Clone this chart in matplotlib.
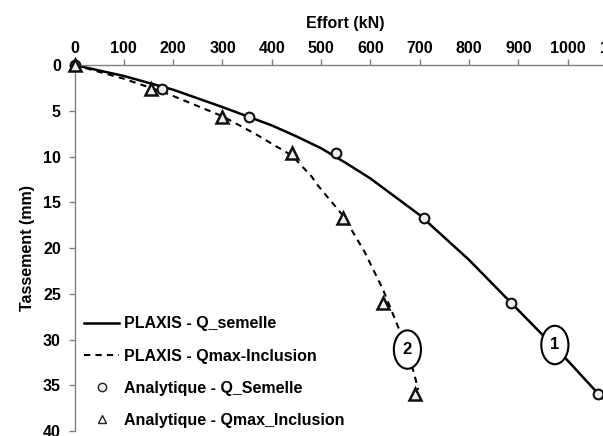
import matplotlib
matplotlib.use("Agg")
import matplotlib.pyplot as plt
from matplotlib.lines import Line2D
from matplotlib.patches import Ellipse

plt.rcParams['font.family'] = ['Liberation Sans', 'DejaVu Sans']
plt.rcParams['font.weight'] = 'bold'

# PLAXIS curves
plaxis_semelle_x = [0, 100, 200, 300, 400, 450, 500, 550, 600, 700, 800, 900, 1000, 1070]
plaxis_semelle_y = [0, 1.2, 2.7, 4.6, 6.6, 7.8, 9.1, 10.7, 12.4, 16.4, 21.3, 26.8, 32.3, 36.4]

plaxis_incl_x = [0, 100, 187, 300, 369, 403, 441, 481, 491, 545, 588, 626, 656, 674, 690, 697]
plaxis_incl_y = [0, 1.5, 3.1, 5.6, 7.6, 8.7, 9.9, 12.2, 13.0, 16.5, 20.4, 24.6, 28.6, 31.0, 34.0, 35.5]

# analytical points
ana_semelle_x = [0, 177, 354, 530, 708, 885, 1062]
ana_incl_x = [0, 155, 300, 441, 545, 625, 691]
ana_y = [0, 2.6, 5.7, 9.6, 16.7, 26.0, 36.0]

curve_labels = ['1', '2']
label_pos_x = [974, 675]
label_pos_y = [30.6, 31.1]

FS = 11.5
W, H = 603, 436
fig = plt.figure(figsize=(W / 100, H / 100), dpi=100)
ax = fig.add_axes([74.5 / W, 1 - 431 / H, (617 - 74.5) / W, (431 - 65) / H])

ax.plot(plaxis_semelle_x, plaxis_semelle_y, color='black', lw=1.8, zorder=2)
ax.plot(plaxis_incl_x, plaxis_incl_y, color='black', lw=1.5, dashes=(3, 2.5), zorder=2)
ax.plot(ana_semelle_x, ana_y, ls='none', marker='o', ms=7, mfc='#eeeeee', mec='#111111',
        mew=1.5, zorder=4, clip_on=False)
ax.plot(ana_incl_x, ana_y, ls='none', marker='^', ms=8, mfc='#eeeeee', mec='#111111',
        mew=1.8, zorder=4, clip_on=False)

for lab, lx, ly in zip(curve_labels, label_pos_x, label_pos_y):
    ax.add_patch(Ellipse((lx, ly), 55, 4.2, facecolor='white', edgecolor='black', lw=1.5, zorder=5))
    ax.text(lx, ly, lab, ha='center', va='center', fontsize=12, fontweight='bold', zorder=6)

ax.set_xlim(0, 1100)
ax.set_ylim(40, 0)
ax.set_xticks(range(0, 1101, 100))
ax.set_yticks(range(0, 41, 5))
ax.xaxis.tick_top()
ax.xaxis.set_label_position('top')
ax.tick_params(axis='both', colors='#808080', labelcolor='black', labelsize=FS, length=4.3, width=1)
ax.tick_params(axis='x', pad=2.5)
ax.tick_params(axis='y', pad=5.5)
for s in ['right', 'bottom']:
    ax.spines[s].set_visible(False)
for s in ['left', 'top']:
    ax.spines[s].set_color('#808080')
    ax.spines[s].set_linewidth(1)

ax.set_xlabel('Effort (kN)', fontsize=FS, fontweight='bold', labelpad=9)
ax.set_ylabel('Tassement (mm)', fontsize=FS, fontweight='bold', labelpad=6)

handles = [
    Line2D([0], [0], color='black', lw=1.8, label='PLAXIS - Q_semelle'),
    Line2D([0], [0], color='black', lw=1.5, dashes=(3, 2.5), label='PLAXIS - Qmax-Inclusion'),
    Line2D([0], [0], ls='none', marker='o', ms=6, mfc='#eeeeee', mec='#222222', mew=1, label='Analytique - Q_Semelle'),
    Line2D([0], [0], ls='none', marker='^', ms=6, mfc='white', mec='#222222', mew=1, label='Analytique - Qmax_Inclusion'),
]
leg = ax.legend(handles=handles, loc='lower left', bbox_to_anchor=(76 / W, 1 - 436 / H),
                bbox_transform=fig.transFigure, frameon=False, fontsize=FS,
                handlelength=2.2, handletextpad=0.3, labelspacing=1.08, borderpad=0)
for t in leg.get_texts():
    t.set_fontweight('bold')

fig.savefig('out.png', dpi=100)
